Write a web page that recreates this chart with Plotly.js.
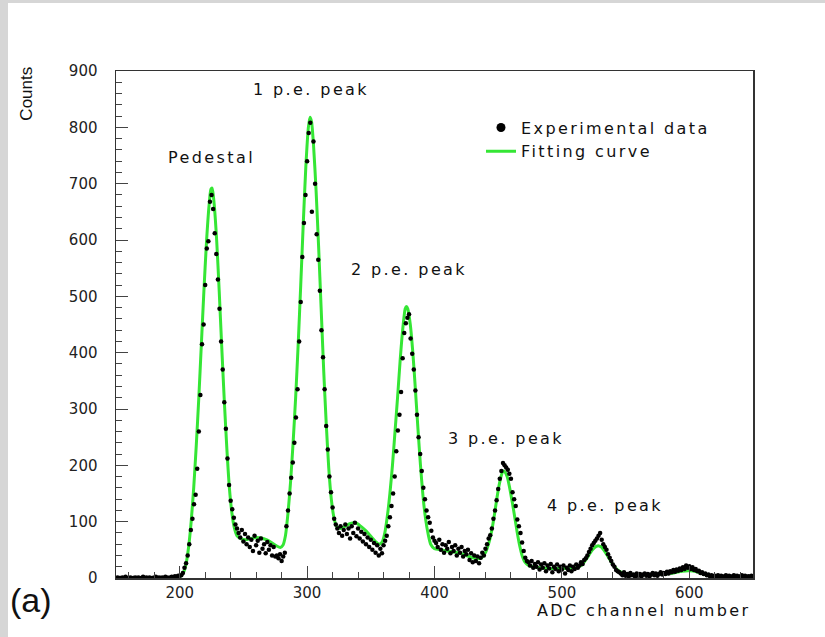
<!DOCTYPE html>
<html><head><meta charset="utf-8">
<script src="https://cdn.plot.ly/plotly-3.0.1.min.js"></script>
<style>
html,body{margin:0;padding:0;width:825px;height:637px;overflow:hidden;background:#d6d6d6;}
#wrap{position:absolute;left:8px;top:3px;width:817px;height:634px;background:#fff;}
#chart{width:817px;height:634px;}
</style></head><body><div id="wrap"><div id="chart"></div></div>
<script>
// Histogram binning of the experimental data (ADC channels)
const binStart = 150;
const binWidth = 1.25;
// Experimental counts per bin, 150 .. 650
const dataCounts = [
  0,1,0,0,1,0,2,0,0,1, 0,0,1,0,1,0,0,2,0,1, 0,1,0,0,1,2,0,1,0,1, 0,2,1,0,1,2,1,3,2,4,
  4,5,9,18,26,40,60,85,105,131, 148,194,260,325,415,450,520,585,598,668, 680,655,612,575,530,478,420,370,312,265, 212,165,137,
  122,107,95,88,80,72,85,65,78,60, 72,55,68,48,75,58,66,45,70,52, 60,44,64,50,58,40,55,38,40,35, 42,30,38,45,
  92,120,150,178,205,240,285,335,420,490, 570,630,680,740,790,808,650,775,700,610, 565,510,440,392,335,270,228,180,152,125, 105,95,
  88,80,92,75,85,95,78,88,70,92, 80,98,74,88,70,82,65,78,60,72, 55,68,50,62,45,58,40,52,44,58, 66,
  75,92,108,128,150,180,225,262,290,330, 390,435,452,462,468,425,398,370,333,290, 250,220,190,160,140,120,108,98,84,72, 66,
  62,55,68,50,60,45,58,52,64,44, 55,48,58,40,52,45,55,38,48,42, 50,32,44,28,40,30,38,26,36,45, 40,52,60,70,
  76,88,105,120,138,158,176,190,204,200, 196,192,185,176,152,140,128,104,92,80, 63,48,36,30,
  28,22,30,18,25,20,28,15,24,18, 26,12,22,17,25,10,20,16,24,12, 20,15,22,8,18,14,22,12,20,16, 24,18,22,28,25,32,
  35,40,46,52,58,62,66,70,75,80, 68,60,55,50,42,36,30,24,20,14, 12,10,
  8,5,10,4,7,3,9,5,6,2, 8,4,7,3,6,8,4,7,3,6, 9,5,8,4,7,10,6,9,7,11, 8,12,10,14,11,15,13,17,14,19,
  16,22,18,21,16,19,14,16,12,13, 9,10,7,8,5,6,3,5,2,4, 3,5,2,4,1,3,5,2,4,1, 3,5,2,4,1,3,5,2,4,1, 3,2,4,3
];
const dataChannels = dataCounts.map((_, i) => binStart + binWidth * i);

// Fitting curve
const fitChannels = [150,195,200,203,205,207,209,211,213,215,217,219,221,223,224.5,225.5,227,229,231,233,235,237,239,241,243,245,248,252,256,260,264,268,272,276,279,281,283,285,287,289,291,293,295,297,299,301,302.3,303.5,305,307,309,311,313,315,317,319,321,323,326,330,334,338,342,346,350,354,356.5,359,361,363,365,367,369,371,373,375,377,378,379,381,383,385,387,389,391,393,395,397,400,405,410,415,420,425,430,434,437,440,443,445,447,449,451,453,454,455,457,459,461,463,465,467,469,471,474,480,490,500,510,515,518,521,524,527,529,531,534,537,540,543,546,550,560,570,580,588,594,600,606,612,620,630,650];
const fitCounts   = [0,0,2,10,25,55,100,160,235,320,415,510,595,660,690,692,665,600,510,410,315,230,160,115,88,75,70,68,70,72,71,68,63,57,54,58,75,115,170,240,320,415,520,630,730,800,818,810,770,690,590,480,370,275,195,140,108,92,88,92,97,98,92,84,74,64,60,64,80,110,150,200,260,320,385,440,478,482,478,450,400,335,265,200,145,105,78,60,52,50,48,46,44,40,36,34,36,45,65,85,112,142,168,186,190,189,180,160,135,108,80,56,38,28,22,19,17,17,18,22,30,40,50,56,57,55,46,35,24,16,11,8,6,6,7,9,12,13,11,6,3,2,1];

// Labels
const peakLabels = ['Pedestal','1 p.e. peak','2 p.e. peak','3 p.e. peak','4 p.e. peak'];
const peakLabelX = [225, 303, 380, 456, 534];
const peakLabelY = [747, 868, 547, 248, 128];
const seriesNames = ['Experimental data','Fitting curve'];
const xTitle = 'ADC channel number';
const yTitle = 'Counts';
const panelTag = '(a)';

const font = '"DejaVu Sans", sans-serif';
const sp = t => '<span style="letter-spacing:2.4px">' + t + '</span>';

const traces = [
  {x: fitChannels, y: fitCounts, type:'scatter', mode:'lines', name: sp(seriesNames[1]),
   line:{color:'#35e635', width:3, shape:'spline', smoothing:0.6}, legendrank:2, hoverinfo:'skip'},
  {x: dataChannels, y: dataCounts, type:'scatter', mode:'markers', name: sp(seriesNames[0]),
   marker:{color:'#000', size:4.5}, showlegend:false},
  {x:[null], y:[null], type:'scatter', mode:'markers', name: sp(seriesNames[0]),
   marker:{color:'#000', size:9}, legendrank:1}
];

const axisCommon = {
  showline:true, linecolor:'#333', linewidth:1.5, mirror:true,
  showgrid:false, zeroline:false,
  ticks:'inside', ticklen:12, tickwidth:1, tickcolor:'#444',
  tickfont:{family:font, size:15, color:'#222'},
  tickmode:'linear', tick0:0, dtick:100,
  minor:{ticks:'inside', ticklen:6, tickwidth:1, tickcolor:'#444', dtick:20, tick0:0}
};

const annotations = peakLabels.map((t,i)=>({
  x: peakLabelX[i], y: peakLabelY[i], xref:'x', yref:'y', text: sp(t), showarrow:false,
  xanchor:'center', yanchor:'middle',
  font:{family:font, size:16, color:'#111'}
}));
annotations.push({xref:'paper', yref:'paper', x:-0.14, y:0.955, xanchor:'center', yanchor:'middle',
  text: yTitle, textangle:-90,
  showarrow:false, font:{family:'"Liberation Sans", Arial, sans-serif', size:17, color:'#111'}});
annotations.push({xref:'paper', yref:'paper', x:1.0, xanchor:'right', y:-0.064, yanchor:'middle',
  text: sp(xTitle),
  showarrow:false, font:{family:font, size:16, color:'#111'}});
annotations.push({xref:'paper', yref:'paper', x:-0.133, y:-0.043, xanchor:'center', yanchor:'middle',
  text: panelTag,
  showarrow:false, font:{family:'"Liberation Sans", Arial, sans-serif', size:34, color:'#111'}});

const layout = {
  width:817, height:634,
  margin:{l:108, r:72, t:68, b:59},
  paper_bgcolor:'#fff', plot_bgcolor:'#fff',
  showlegend:true,
  legend:{x:0.573, y:0.922, xanchor:'left', yanchor:'top', bgcolor:'rgba(0,0,0,0)',
    font:{family:font, size:16, color:'#111'}, itemwidth:30, tracegroupgap:0},
  xaxis: Object.assign({}, axisCommon, {range:[150,650]}),
  yaxis: Object.assign({}, axisCommon, {range:[0,900], ticklabelstandoff:14}),
  annotations: annotations
};

Plotly.newPlot('chart', traces, layout, {displayModeBar:false, staticPlot:true});
</script></body></html>
